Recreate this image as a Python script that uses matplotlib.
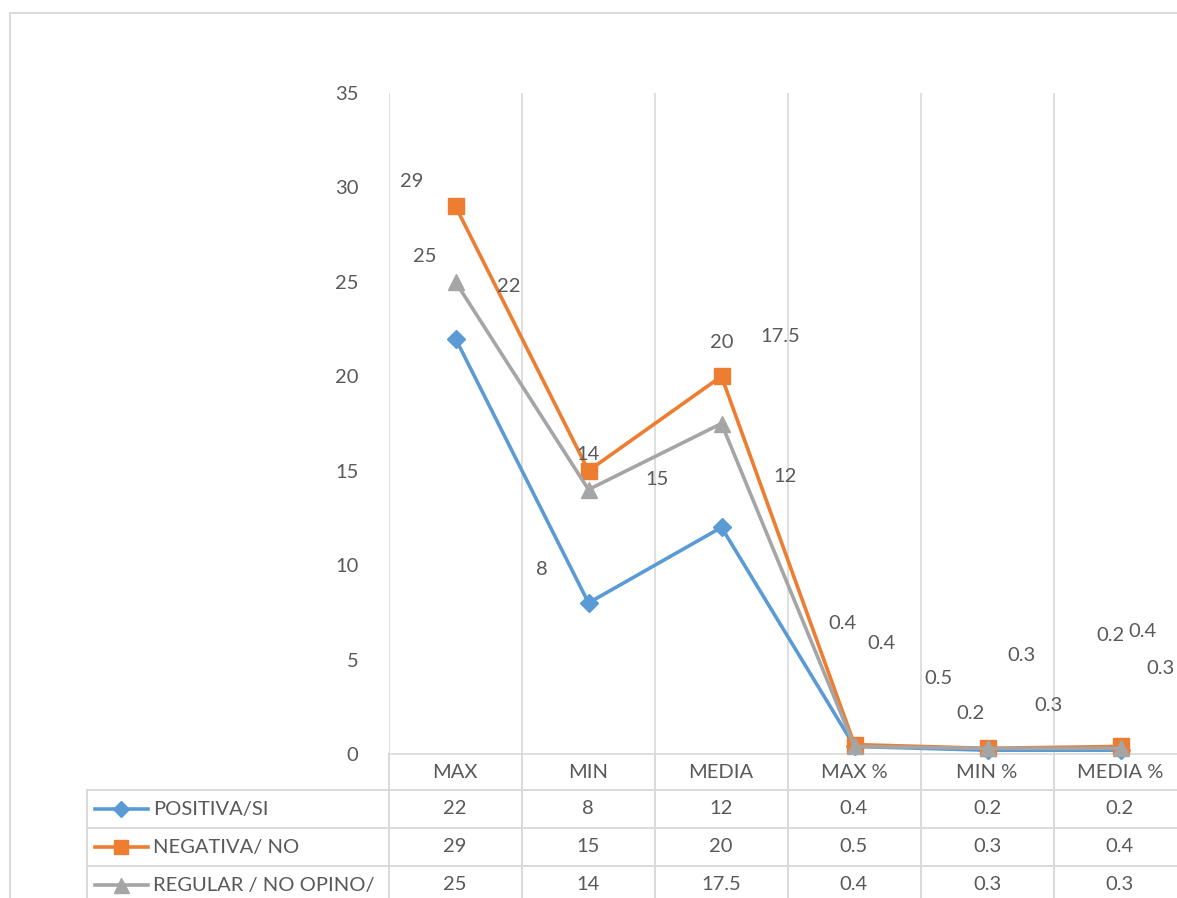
import numpy as np
import matplotlib.pyplot as plt
from matplotlib.lines import Line2D

categories = ["MAX", "MIN", "MEDIA", "MAX %", "MIN %", "MEDIA %"]
series_names = ["POSITIVA/SI", "NEGATIVA/ NO", "REGULAR / NO OPINO/"]
positiva = [22, 8, 12, 0.4, 0.2, 0.2]
negativa = [29, 15, 20, 0.5, 0.3, 0.4]
regular = [25, 14, 17.5, 0.4, 0.3, 0.3]
table_text = [["22", "8", "12", "0.4", "0.2", "0.2"],
              ["29", "15", "20", "0.5", "0.3", "0.4"],
              ["25", "14", "17.5", "0.4", "0.3", "0.3"]]

#styles
colors = ["#5B9BD5", "#ED7D31", "#A5A5A5"]
markers = ["D", "s", "^"]
msizes = [9, 11, 12]
txt_col = "#595959"
grid_col = "#D9D9D9"
fs = 14.5
plt.rcParams["font.family"] = ["Lato", "DejaVu Sans"]

#label offsets in pixels (Excel put the data labels in odd places)
label_offsets = [
    [(53, 52), (-47, 33), (64, 51), (-12, 123), (-17, 37), (-10, 115)],
    [(-44, 25), (69, -9), (0, 34), (84, 66), (34, 93), (22, 115)],
    [(-31, 25), (0, 35), (59, 87), (27, 103), (61, 43), (40, 80)],
]

W, H = 1177, 898
fig = plt.figure(figsize=(W / 100, H / 100), dpi=100)

def fx(px):
    return px / W

def fy(py):
    return 1 - py / H

#plot area in pixels: left 389, each category 133 px wide, y 0 at 754, 35 at 93
ax = fig.add_axes([fx(389), fy(754), (133 * 6) / W, (754 - 93) / H])
x = np.arange(len(categories))
data = [positiva, negativa, regular]

for vals, c, m, ms in zip(data, colors, markers, msizes):
    ax.plot(x, vals, color=c, lw=2.6, marker=m, markersize=ms,
            markeredgecolor=c, zorder=3, clip_on=False)

for vals, offs in zip(data, label_offsets):
    for xi, v, (dx, dy) in zip(x, vals, offs):
        ax.annotate(f"{v:g}", xy=(xi, v), xytext=(dx, dy), textcoords="offset pixels",
                    ha="center", va="center", color=txt_col, fontsize=fs)

ax.set_xlim(-0.5, 5.5)
ax.set_ylim(0, 35)
ax.set_yticks(np.arange(0, 36, 5))
ax.set_xticks(np.arange(-0.5, 6, 1))
ax.set_xticklabels([])
ax.tick_params(axis="y", length=0, pad=22, labelsize=fs, labelcolor=txt_col)
ax.tick_params(axis="x", length=0)
ax.grid(axis="x", color=grid_col, lw=1.2)
for s in ["top", "right", "left"]:
    ax.spines[s].set_visible(False)
ax.spines["bottom"].set_color(grid_col)
ax.spines["bottom"].set_linewidth(1.2)

#data table under the plot
rows_y = [754, 790, 828, 866, 904]
col_x = [389 + 133 * i for i in range(7)]
for py in rows_y[1:]:
    fig.add_artist(Line2D([fx(87), 1], [fy(py), fy(py)], color=grid_col, lw=1.4))
fig.add_artist(Line2D([fx(87), fx(87)], [fy(790), 0], color=grid_col, lw=1.4))
for px in col_x:
    fig.add_artist(Line2D([fx(px), fx(px)], [fy(754), 0], color=grid_col, lw=1.4))

for i, cat in enumerate(categories):
    fig.text(fx(455 + 133 * i), fy(772), cat, ha="center", va="center",
             color=txt_col, fontsize=fs)

for r in range(3):
    yc = fy((rows_y[r + 1] + rows_y[r + 2]) / 2)
    fig.add_artist(Line2D([fx(95), fx(148)], [yc, yc], color=colors[r], lw=2.6))
    fig.add_artist(Line2D([fx(121)], [yc], color=colors[r], marker=markers[r],
                          markersize=msizes[r] * 0.9, lw=0))
    fig.text(fx(153), yc, series_names[r], ha="left", va="center",
             color=txt_col, fontsize=fs)
    for i in range(6):
        fig.text(fx(455 + 133 * i), yc, table_text[r][i], ha="center", va="center",
                 color=txt_col, fontsize=fs)

#chart area border
fig.add_artist(Line2D([fx(10), 1], [fy(13), fy(13)], color=grid_col, lw=1.4))
fig.add_artist(Line2D([fx(10), fx(10)], [fy(13), 0], color=grid_col, lw=1.4))

plt.savefig("out.png", dpi=100)
